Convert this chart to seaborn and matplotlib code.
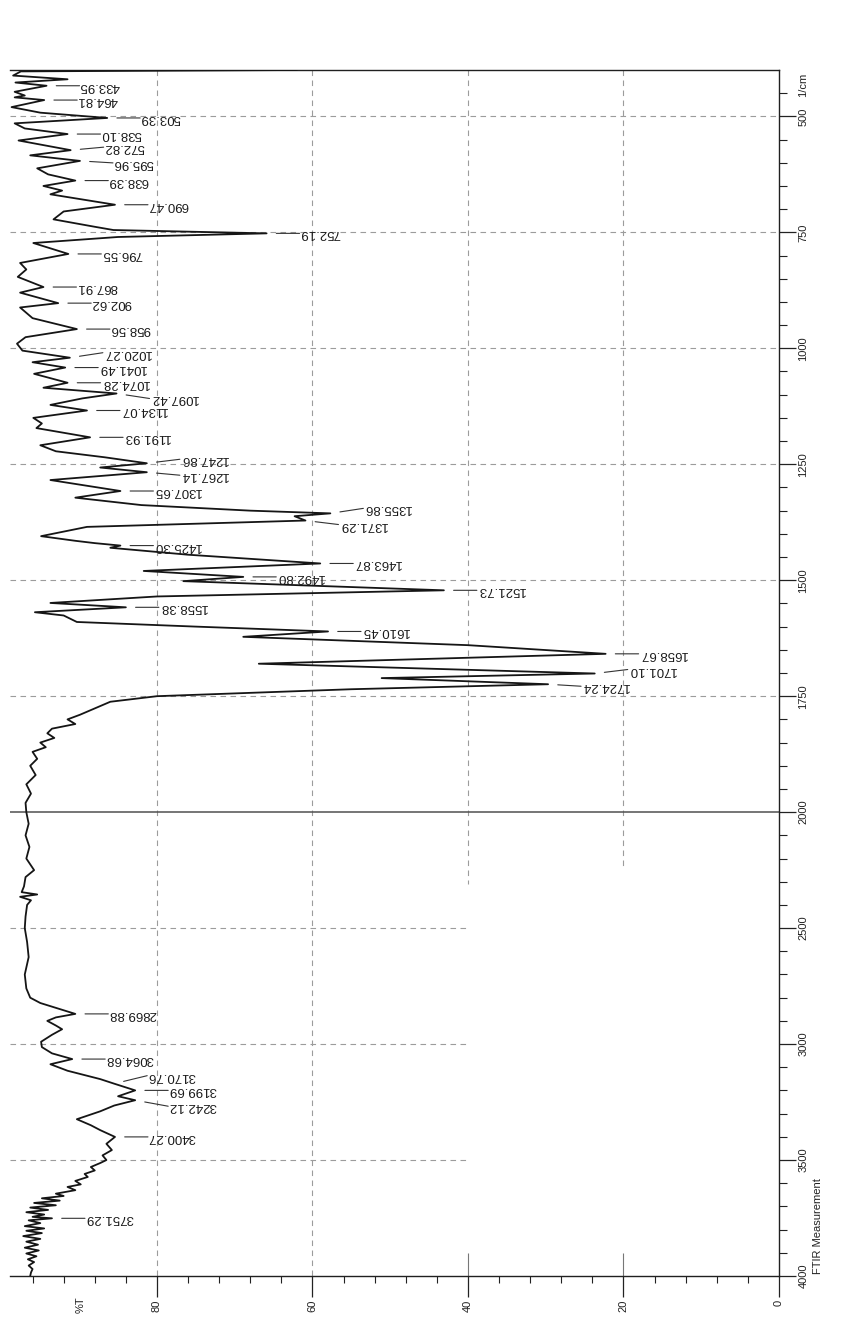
import numpy as np
import pandas as pd
import matplotlib
matplotlib.use("Agg")
import matplotlib.pyplot as plt
import matplotlib.transforms as mtransforms
import seaborn as sns

# ---------------- data ----------------
wavenumber = [
    400, 403, 412, 420, 427, 433.95, 447, 455, 459, 464.81, 480, 492, 503.39, 515, 526,
    538.10, 552, 572.82, 584, 595.96, 612, 625, 638.39, 650, 660, 668, 690.47, 705, 722,
    738, 745, 752.19, 760, 773, 796.55, 816, 830, 846, 867.91, 880, 902.62, 912, 935,
    958.56, 976, 990, 1005, 1020.27, 1030, 1041.49, 1055, 1074.28, 1085, 1097.42, 1108,
    1122, 1134.07, 1150, 1162, 1172, 1191.93, 1209, 1222, 1235, 1247.86, 1257, 1267.14,
    1284, 1307.65, 1322, 1338, 1350, 1355.86, 1362, 1371.29, 1385, 1405, 1415, 1420,
    1425.30, 1430, 1445, 1463.87, 1480, 1492.80, 1502, 1521.73, 1535, 1549, 1558.38,
    1569, 1576, 1590, 1600, 1610.45, 1622, 1640, 1658.67, 1680, 1701.10, 1711, 1724.24,
    1735, 1750, 1762, 1780, 1790, 1800, 1810, 1820, 1830, 1840, 1850, 1860, 1870, 1885,
    1900, 1920, 1940, 1960, 1980, 2000, 2050, 2100, 2150, 2200, 2250, 2280, 2320, 2345,
    2355, 2365, 2380, 2400, 2450, 2500, 2560, 2625, 2700, 2760, 2800, 2823, 2850,
    2869.88, 2885, 2900, 2920, 2936, 2960, 2990, 3013, 3040, 3064.68, 3087, 3115, 3151,
    3170.76, 3199.69, 3225, 3242.12, 3265, 3290, 3324, 3350, 3371, 3400.27, 3430, 3457,
    3480, 3500, 3513, 3530, 3545, 3560, 3573, 3590, 3605, 3616, 3630, 3645, 3655, 3665,
    3675, 3685, 3695, 3705, 3715, 3725, 3735, 3745, 3751.29, 3760, 3772, 3785, 3795,
    3805, 3815, 3828, 3840, 3852, 3865, 3878, 3890, 3903, 3915, 3928, 3940, 3955, 3970,
    3985, 4000,
]
transmittance = [
    62.0, 97.5, 98.5, 91.5, 98.2, 94.2, 98.3, 97.0, 98.3, 94.5, 98.7, 95.0, 86.4, 98.3, 97.0,
    91.5, 97.8, 91.1, 96.3, 89.9, 95.4, 94.0, 90.5, 94.6, 92.2, 93.7, 85.4, 92.0, 93.3,
    88.0, 85.6, 65.9, 85.0, 95.9, 91.4, 97.6, 96.8, 97.9, 94.6, 97.6, 92.7, 97.6, 96.0,
    90.3, 96.9, 98.0, 97.3, 91.2, 96.0, 91.8, 95.8, 91.5, 94.6, 85.2, 89.6,
    93.7, 89.0, 95.9, 94.8, 95.5, 88.6, 95.0, 93.0, 86.7, 81.3, 87.3, 81.3,
    93.7, 84.7, 90.5, 82.0, 68.0, 57.7, 62.3, 60.9, 89.0, 94.9, 90.5, 88.0,
    84.7, 86.0, 76.0, 59.0, 81.7, 68.9, 76.6, 43.1, 80.0, 93.7, 84.0,
    95.7, 92.0, 90.3, 75.0, 58.0, 68.9, 40.0, 22.3, 66.9, 23.7, 51.1, 29.7,
    55.0, 80.0, 86.0, 88.5, 89.9, 91.5, 90.5, 93.5, 94.1, 93.2, 95.0, 94.3, 96.0, 95.4,
    96.3, 95.6, 96.8, 96.2, 96.9, 96.8, 96.5, 96.9, 96.4, 96.8, 95.8, 96.9, 97.1, 97.4,
    95.4, 97.6, 96.2, 96.7, 96.9, 97.0, 96.7, 96.5, 97.0, 96.8, 96.3, 95.0, 92.4,
    90.5, 93.0, 94.1, 93.0, 92.2, 93.5, 94.9, 94.8, 93.5, 90.9, 93.7, 91.5, 87.3,
    85.5, 82.8, 85.0, 82.8, 85.5, 87.3, 90.3, 88.5, 87.3, 85.4, 86.5, 85.8,
    87.0, 86.5, 87.3, 88.5, 88.0, 89.3, 88.9, 90.5, 89.8, 91.5, 90.5, 93.0, 92.0, 94.8,
    92.5, 95.8, 93.0, 96.3, 94.0, 96.8, 94.5, 96.0, 93.5, 96.5, 95.0, 97.0, 94.5,
    96.8, 94.8, 97.2, 95.0, 96.8, 95.3, 97.0, 95.2, 96.8, 95.5, 96.6, 95.8, 96.5, 96.0,
    96.2, 96.3,
]
peak_labels = [
    "433.95", "464.81", "503.39", "538.10", "572.82", "595.96", "638.39", "690.47",
    "752.19", "796.55", "867.91", "902.62", "958.56", "1020.27", "1041.49", "1074.28",
    "1097.42", "1134.07", "1191.93", "1247.86", "1267.14", "1307.65", "1355.86",
    "1371.29", "1425.30", "1463.87", "1492.80", "1521.73", "1558.38", "1610.45",
    "1658.67", "1701.10", "1724.24", "2869.88", "3064.68", "3170.76", "3199.69",
    "3242.12", "3400.27", "3751.29",
]
t_major = [0, 20, 40, 60, 80]
t_minor = [4, 8, 12, 16, 24, 28, 32, 36, 44, 48, 52, 56, 64, 68, 72, 76, 84, 88, 92, 96]
wn_major = [500, 750, 1000, 1250, 1500, 1750, 2000, 2500, 3000, 3500, 4000]

# ---------------- style ----------------
sns.set_style("white")
plt.rcParams["font.family"] = ["Liberation Sans", "DejaVu Sans"]

fig = plt.figure(figsize=(8.43, 13.23), dpi=100)
ax = fig.add_axes([0.01186, 0.03553, 0.91222, 0.91156])

df = pd.DataFrame({"wn": wavenumber, "T": transmittance})
sns.lineplot(data=df, x="T", y="wn", sort=False, estimator=None,
             color="#151515", linewidth=1.3, ax=ax, zorder=3)


def fwd(w):
    w = np.asarray(w, dtype=float)
    return np.where(w <= 2000, w, 2000 + (w - 2000) / 2.0)


def inv(u):
    u = np.asarray(u, dtype=float)
    return np.where(u <= 2000, u, 2000 + (u - 2000) * 2.0)


ax.set_yscale("function", functions=(fwd, inv))
ax.set_ylim(4000, 400)
ax.set_xlim(98.9, 0)
ax.set_xlabel("")
ax.set_ylabel("")

# ---------------- grid ----------------
gkw = dict(color="#9c9c9c", linewidth=0.8, linestyle=(0, (5, 4)), zorder=1)
for w in wn_major[:6]:
    ax.axhline(w, **gkw)
for w in wn_major[7:10]:
    ax.hlines(w, 98.9, 40, **gkw)
ax.axhline(2000, color="#505050", linewidth=1.1, zorder=2)
ax.vlines([80, 60], 400, 4000, **gkw)
ax.vlines(40, 400, 2310, **gkw)
ax.vlines(20, 400, 2240, **gkw)
ax.vlines([40, 20], 3900, 4000, color="#777777", linewidth=0.8, zorder=1)

# ---------------- spines & ticks ----------------
ax.spines["left"].set_visible(False)
for s in ("top", "right", "bottom"):
    ax.spines[s].set_color("#202020")
    ax.spines[s].set_linewidth(1.0)

ax.yaxis.tick_right()
ax.set_yticks(wn_major)
ax.set_yticklabels([str(v) for v in wn_major], rotation=90, va="center", fontsize=8,
                   color="#222222")
wn_minor = [v for v in range(450, 2000, 50) if v not in wn_major] + \
           [v for v in range(2100, 4000, 100) if v not in wn_major]
ax.set_yticks(wn_minor, minor=True)
ax.tick_params(axis="y", which="major", right=True, left=False, direction="out",
               length=12, width=0.9, pad=2, colors="#222222")
ax.tick_params(axis="y", which="minor", right=True, left=False, direction="out",
               length=6, width=0.8, colors="#222222")

ax.set_xticks(t_major)
ax.set_xticklabels([str(v) for v in t_major], rotation=90, va="top", ha="center",
                   fontsize=8, color="#222222")
ax.set_xticks(t_minor, minor=True)
ax.tick_params(axis="x", which="major", bottom=True, top=False, direction="out",
               length=15, width=0.9, pad=2, colors="#222222")
ax.tick_params(axis="x", which="minor", bottom=True, top=False, direction="out",
               length=5, width=0.8, colors="#222222")

trans_xfig = mtransforms.blended_transform_factory(ax.transData, fig.transFigure)
ax.text(89.8, 0.0136, "%T", rotation=90, ha="center", va="center", fontsize=8,
        color="#222222", transform=trans_xfig)
trans_yfig = mtransforms.blended_transform_factory(fig.transFigure, ax.transData)
ax.text(0.9526, 432, "1/cm", rotation=90, ha="center", va="center", fontsize=8,
        color="#222222", transform=trans_yfig)
ax.text(0.9703, 3990, "FTIR Measurement", rotation=90, ha="left", va="center",
        rotation_mode="anchor", fontsize=8, color="#222222", transform=trans_yfig)

# ---------------- peak labels ----------------
nudge_px = {"572.82": 3, "595.96": -2, "1020.27": 5, "1097.42": -5, "1247.86": 4,
            "1267.14": -3, "1355.86": 5, "1371.29": -4, "1701.10": 4, "1724.24": -2,
            "3170.76": 8, "3242.12": -6}
wn_str = ["%.2f" % w for w in wavenumber]
for lab in peak_labels:
    i = wn_str.index(lab)
    tip = (transmittance[i], wavenumber[i])
    dy = nudge_px.get(lab, 0) * 0.72
    off = (33 * 0.72, dy)
    ax.annotate("", xy=tip, xytext=off, textcoords="offset points",
                arrowprops=dict(arrowstyle="-", color="#333333", lw=0.8,
                                shrinkA=0, shrinkB=7))
    ax.annotate(lab, xy=tip, xytext=off, textcoords="offset points",
                rotation=180, rotation_mode="anchor", ha="right", va="center",
                fontsize=9.5, color="#1a1a1a")

fig.savefig("out.png", dpi=100, facecolor="white")
